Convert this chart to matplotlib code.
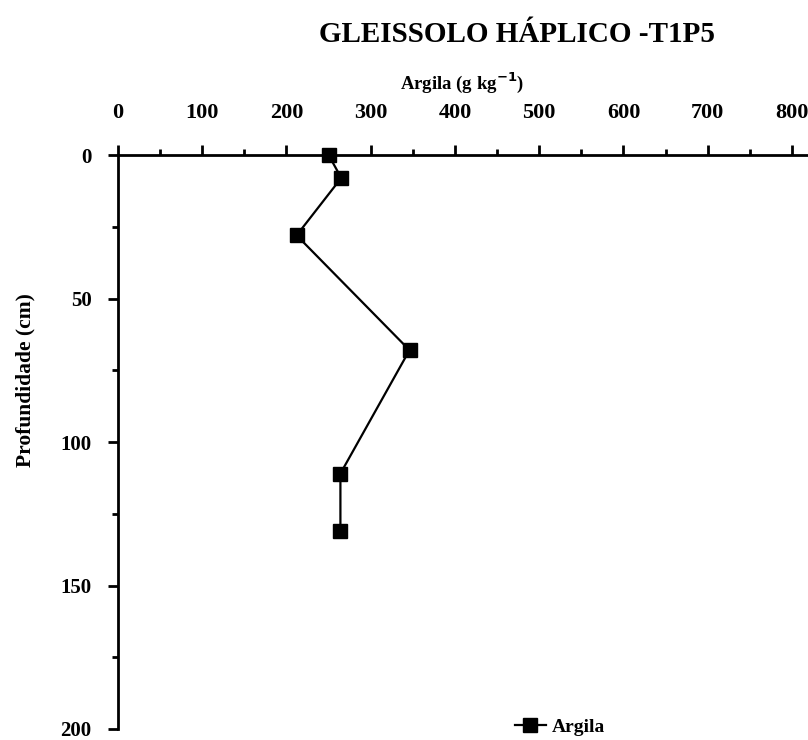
import numpy as np
import matplotlib.pyplot as plt
from matplotlib.ticker import MultipleLocator

# Argila profile data (g/kg vs depth in cm)
argila = [250, 265, 212, 346, 264, 264]
profundidade = [0, 8, 28, 68, 111, 131]

plt.rcParams['font.family'] = ['Liberation Serif', 'DejaVu Serif']
plt.rcParams['font.weight'] = 'bold'

fig = plt.figure(figsize=(8.08, 7.40), dpi=100)
# axes: x from 118 px to 808 px, y from 155 px to 729 px
ax = fig.add_axes([118 / 808, 1 - 729 / 740, (808 - 118) / 808, (729 - 155) / 740])

ax.plot(argila, profundidade, color='black', lw=1.6, marker='s', ms=10,
        label='Argila', clip_on=False, zorder=5)

ax.set_xlim(0, 819)
ax.set_ylim(200, 0)
ax.xaxis.set_major_locator(MultipleLocator(100))
ax.xaxis.set_minor_locator(MultipleLocator(50))
ax.yaxis.set_major_locator(MultipleLocator(50))
ax.yaxis.set_minor_locator(MultipleLocator(25))
ax.xaxis.tick_top()
ax.xaxis.set_label_position('top')

for s in ['right', 'bottom']:
    ax.spines[s].set_visible(False)
for s in ['left', 'top']:
    ax.spines[s].set_linewidth(2)

ax.tick_params(which='major', length=7, width=2, labelsize=16, pad=16)
ax.tick_params(which='minor', length=4, width=2)
ax.tick_params(axis='y', which='major', pad=12, labelsize=15)
for lab in ax.get_xticklabels() + ax.get_yticklabels():
    lab.set_fontweight('bold')

fig.text(462 / 808, 1 - 83 / 740, 'Argila (g kg$^{\\mathbf{-1}}$)', ha='center', va='center',
         fontsize=13.5, fontweight='bold')
fig.text(517 / 808, 1 - 35 / 740, 'GLEISSOLO HÁPLICO -T1P5', ha='center', va='center',
         fontsize=21, fontweight='bold')
fig.text(25 / 808, 1 - 380 / 740, 'Profundidade (cm)', ha='center', va='center',
         rotation=90, fontsize=15.5, fontweight='bold')

leg = fig.legend(loc='center', bbox_to_anchor=(560 / 808, 1 - 727 / 740), frameon=False,
                 fontsize=14, handlelength=1.6, handletextpad=0.3, borderpad=0)
for t in leg.get_texts():
    t.set_fontweight('bold')

fig.savefig('out.png', dpi=100)
